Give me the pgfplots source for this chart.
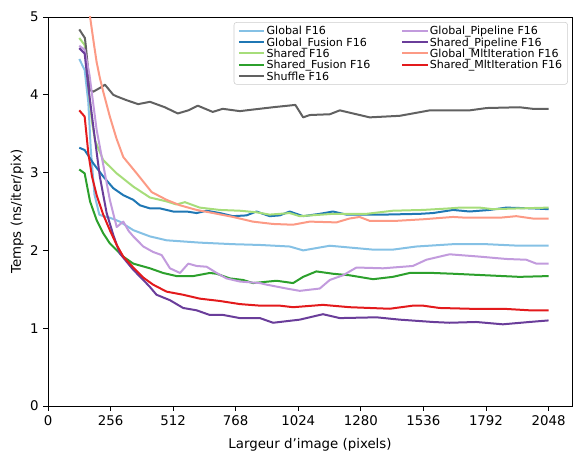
\documentclass[border=0pt]{standalone}
\usepackage{fontspec}
\setmainfont{DejaVu Sans}
\usepackage{pgfplots}
\pgfplotsset{compat=1.18}
\definecolor{cGlobal}{HTML}{85C1E5}
\definecolor{cGlobalFusion}{HTML}{1F77B4}
\definecolor{cShared}{HTML}{A6DD7A}
\definecolor{cSharedFusion}{HTML}{2CA02C}
\definecolor{cShuffle}{HTML}{616161}
\definecolor{cGlobalPipe}{HTML}{C29BDD}
\definecolor{cSharedPipe}{HTML}{6A3D9A}
\definecolor{cGlobalMlt}{HTML}{FC9A85}
\definecolor{cSharedMlt}{HTML}{E31A1C}
\begin{document}
\begin{tikzpicture}
\begin{axis}[
  scale only axis,
  width=393pt, height=291.75pt,
  xmin=0, xmax=2144, ymin=0, ymax=5,
  xtick={0,256,512,768,1024,1280,1536,1792,2048},
  ytick={0,1,2,3,4,5},
  tick align=outside, xtick pos=bottom, ytick pos=left,
  major tick length=3.5pt,
  tick style={black, line width=0.6pt},
  axis line style={line width=0.6pt},
  /pgf/number format/assume math mode=true,
  scaled x ticks=false,
  xticklabel style={font=\fontsize{10}{12}\selectfont, /pgf/number format/1000 sep={}},
  yticklabel style={font=\fontsize{10}{12}\selectfont},
  xlabel={Largeur d{\char"27}image (pixels)},
  ylabel={Temps (ns/iter/pix)},
  label style={font=\fontsize{10}{12}\selectfont},
  xlabel style={yshift=-3pt},
  ylabel style={yshift=-2pt},
  legend columns=2,
  legend cell align=left,
  legend image code/.code={\draw[#1] (0pt,0pt) -- (19pt,0pt);},
  legend style={at={(rel axis cs:0.992,0.987)}, anchor=north east,
    draw=black!20, rounded corners=2pt, fill=white, fill opacity=0.8, text opacity=1,
    font=\fontsize{8.3}{9.5}\selectfont,
    nodes={inner sep=1pt, text depth=0.2pt},
    row sep=0pt, inner xsep=3pt, inner ysep=2pt,
    /tikz/every even column/.append style={column sep=22pt}},
  every axis plot/.append style={line width=1.5pt, line join=round},
]
% Global F16
\addplot[cGlobal, forget plot] coordinates {(128,4.46)(150,4.32)(165,3.90)(175,3.30)(190,2.72)(210,2.46)(226,2.44)(253,2.42)(294,2.37)(349,2.26)(417,2.18)(485,2.13)(621,2.10)(757,2.08)(867,2.07)(989,2.05)(1044,2.00)(1153,2.06)(1330,2.01)(1411,2.01)(1507,2.05)(1657,2.08)(1793,2.08)(1929,2.06)(2048,2.06)};
% Global_Fusion F16
\addplot[cGlobalFusion, forget plot] coordinates {(128,3.32)(150,3.29)(185,3.12)(226,2.95)(267,2.80)(308,2.71)(349,2.65)(376,2.58)(417,2.54)(458,2.54)(512,2.50)(567,2.50)(608,2.48)(649,2.51)(703,2.48)(757,2.44)(812,2.45)(853,2.50)(907,2.44)(948,2.45)(989,2.50)(1044,2.44)(1112,2.47)(1166,2.50)(1221,2.46)(1371,2.46)(1521,2.47)(1575,2.48)(1657,2.52)(1725,2.50)(1807,2.52)(1875,2.55)(1984,2.54)(2048,2.53)};
% Shared F16
\addplot[cShared, forget plot] coordinates {(128,4.73)(150,4.64)(165,4.10)(180,3.65)(192,3.42)(206,3.31)(226,3.16)(281,2.99)(349,2.82)(417,2.68)(485,2.63)(526,2.59)(560,2.62)(621,2.55)(703,2.52)(785,2.51)(853,2.49)(907,2.46)(989,2.48)(1030,2.44)(1166,2.47)(1303,2.47)(1411,2.51)(1534,2.52)(1643,2.54)(1684,2.55)(1766,2.55)(1820,2.53)(1929,2.54)(2048,2.55)};
% Shared_Fusion F16
\addplot[cSharedFusion, forget plot] coordinates {(128,3.04)(150,2.99)(172,2.63)(199,2.39)(226,2.22)(253,2.09)(308,1.92)(349,1.83)(417,1.77)(471,1.71)(526,1.67)(594,1.67)(662,1.71)(690,1.70)(744,1.64)(798,1.62)(839,1.58)(935,1.61)(1003,1.58)(1044,1.66)(1098,1.73)(1166,1.70)(1234,1.68)(1330,1.63)(1411,1.66)(1480,1.71)(1575,1.71)(1657,1.70)(1793,1.68)(1929,1.66)(2048,1.67)};
% Shuffle F16
\addplot[cShuffle, forget plot] coordinates {(128,4.84)(151,4.73)(155,4.62)(172,4.06)(185,4.04)(219,4.10)(233,4.13)(267,4.00)(281,3.98)(322,3.93)(369,3.88)(417,3.91)(478,3.84)(531,3.76)(574,3.80)(613,3.86)(674,3.78)(715,3.82)(785,3.79)(838,3.81)(920,3.84)(1012,3.87)(1044,3.71)(1071,3.74)(1153,3.75)(1194,3.80)(1316,3.71)(1439,3.73)(1492,3.76)(1562,3.80)(1725,3.80)(1795,3.83)(1929,3.84)(1983,3.82)(2048,3.82)};
% Global_Pipeline F16
\addplot[cGlobalPipe, forget plot] coordinates {(128,4.63)(150,4.58)(170,4.25)(199,3.55)(226,3.10)(253,2.65)(281,2.30)(308,2.37)(330,2.25)(349,2.18)(390,2.05)(430,1.98)(465,1.94)(499,1.77)(540,1.71)(574,1.83)(608,1.80)(649,1.79)(690,1.71)(730,1.64)(785,1.60)(867,1.58)(894,1.56)(976,1.51)(1030,1.48)(1112,1.51)(1153,1.62)(1207,1.68)(1262,1.78)(1371,1.77)(1493,1.80)(1548,1.88)(1643,1.95)(1766,1.92)(1875,1.89)(1957,1.88)(1998,1.83)(2048,1.83)};
% Shared_Pipeline F16
\addplot[cSharedPipe, forget plot] coordinates {(128,4.60)(150,4.53)(165,4.10)(185,3.60)(212,2.95)(240,2.48)(267,2.20)(294,1.96)(349,1.75)(390,1.62)(417,1.53)(444,1.43)(499,1.36)(553,1.26)(608,1.23)(662,1.17)(717,1.17)(785,1.13)(867,1.13)(921,1.07)(1030,1.11)(1125,1.18)(1194,1.13)(1344,1.14)(1439,1.11)(1575,1.08)(1643,1.07)(1752,1.08)(1861,1.05)(1970,1.08)(2048,1.10)};
% Global_MltIteration F16
\addplot[cGlobalMlt, forget plot] coordinates {(128,6.10)(150,5.50)(174,4.96)(188,4.65)(199,4.42)(212,4.22)(226,4.04)(253,3.72)(280,3.44)(308,3.20)(363,2.99)(424,2.75)(485,2.65)(540,2.58)(608,2.52)(676,2.48)(757,2.43)(838,2.37)(920,2.34)(1002,2.33)(1071,2.37)(1180,2.36)(1234,2.41)(1275,2.43)(1316,2.38)(1425,2.38)(1534,2.40)(1657,2.43)(1711,2.42)(1848,2.42)(1916,2.44)(1983,2.41)(2048,2.41)};
% Shared_MltIteration F16
\addplot[cSharedMlt, forget plot] coordinates {(128,3.80)(150,3.72)(165,3.25)(180,2.95)(200,2.70)(226,2.46)(253,2.26)(281,2.07)(308,1.92)(349,1.78)(390,1.65)(430,1.56)(485,1.47)(553,1.43)(621,1.38)(703,1.35)(785,1.31)(867,1.29)(948,1.29)(1003,1.27)(1125,1.30)(1234,1.27)(1398,1.25)(1493,1.29)(1534,1.29)(1602,1.26)(1725,1.25)(1861,1.25)(1970,1.23)(2048,1.23)};
% legend (matplotlib column-major order, written row by row)
\addlegendimage{cGlobal, line width=1.5pt}\addlegendentry{Global F16}
\addlegendimage{cGlobalPipe, line width=1.5pt}\addlegendentry{Global\_Pipeline F16}
\addlegendimage{cGlobalFusion, line width=1.5pt}\addlegendentry{Global\_Fusion F16}
\addlegendimage{cSharedPipe, line width=1.5pt}\addlegendentry{Shared\_Pipeline F16}
\addlegendimage{cShared, line width=1.5pt}\addlegendentry{Shared F16}
\addlegendimage{cGlobalMlt, line width=1.5pt}\addlegendentry{Global\_MltIteration F16}
\addlegendimage{cSharedFusion, line width=1.5pt}\addlegendentry{Shared\_Fusion F16}
\addlegendimage{cSharedMlt, line width=1.5pt}\addlegendentry{Shared\_MltIteration F16}
\addlegendimage{cShuffle, line width=1.5pt}\addlegendentry{Shuffle F16}
\coordinate (sw) at (rel axis cs:0,0);
\coordinate (ne) at (rel axis cs:1,1);
\end{axis}
\pgfresetboundingbox
\path ([xshift=-36pt,yshift=-33pt]sw) rectangle ([xshift=0.75pt,yshift=12.75pt]ne);
\end{tikzpicture}
\end{document}
